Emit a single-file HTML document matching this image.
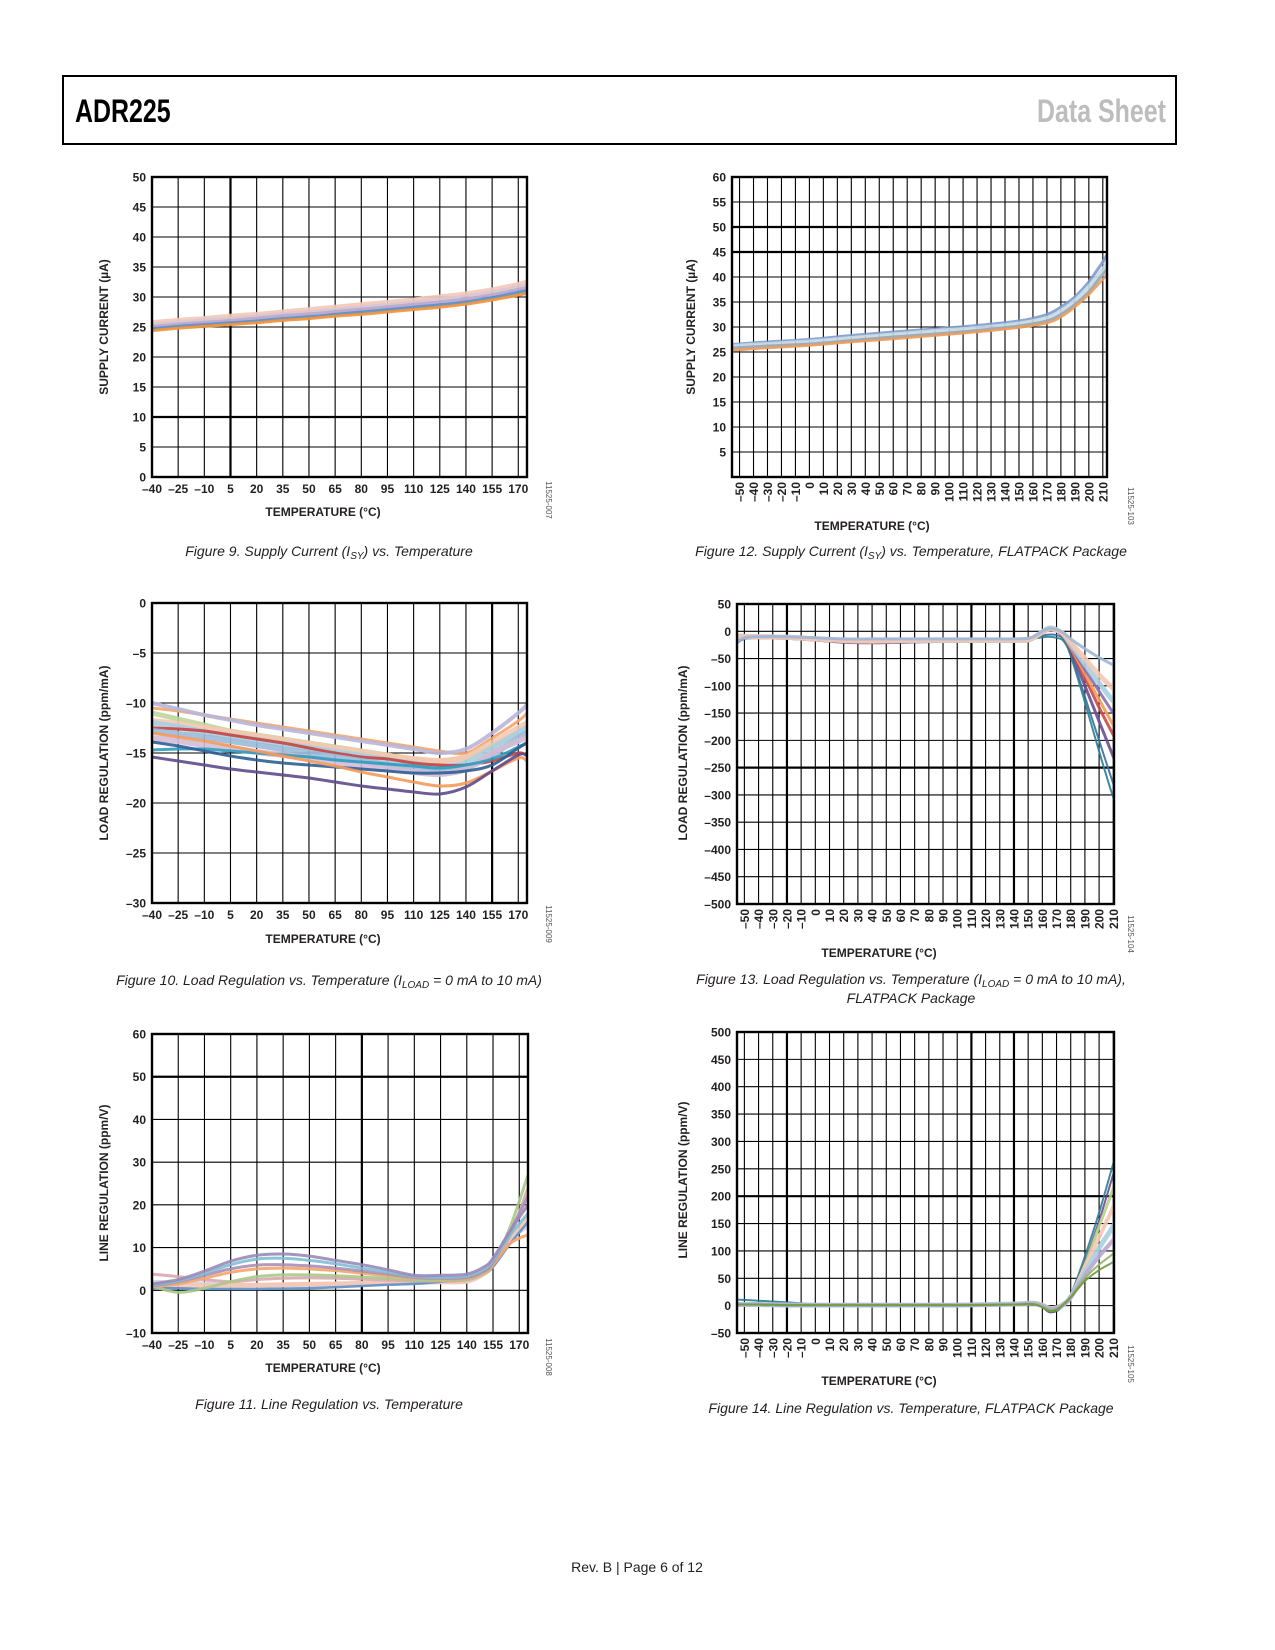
<!DOCTYPE html>
<html><head><meta charset="utf-8"><style>
html,body{margin:0;padding:0;background:#fff;}
svg{display:block;}
text{font-family:"Liberation Sans",Arial,sans-serif;}
.tk{font-size:12px;font-weight:bold;fill:#231f20;}
.ttl{font-size:12px;font-weight:bold;fill:#231f20;}
.cap{font-size:14px;font-style:italic;fill:#231f20;}
.code{font-size:8px;fill:#555;}
</style></head><body>
<svg id="page" width="1275" height="1650" viewBox="0 0 1275 1650">
<rect x="63" y="76" width="1113" height="68" fill="none" stroke="#000" stroke-width="2"/>
<text x="75" y="122" font-size="32" font-weight="bold" fill="#000" transform="translate(75,0) scale(0.78,1) translate(-75,0)">ADR225</text>
<text x="1166" y="122" font-size="32" font-weight="bold" fill="#bdbdbd" text-anchor="end" transform="translate(1166,0) scale(0.78,1) translate(-1166,0)">Data Sheet</text>
<text x="637" y="1572" font-size="14" fill="#231f20" text-anchor="middle">Rev. B | Page 6 of 12</text>
<g id="charts"></g>
</svg>
<script>
// ---------- Figure 9 data ----------
const f9X = [-40,-25,-10,5,20,35,50,65,80,95,110,125,140,155,170,175];
const f9Orange = [24.4,24.8,25.1,25.4,25.7,26.1,26.4,26.8,27.1,27.5,27.9,28.3,28.8,29.5,30.3,30.6];
const f9Blue = [24.7,25.1,25.4,25.7,26.0,26.4,26.7,27.1,27.5,27.9,28.3,28.7,29.2,29.9,30.8,31.1];
const f9Green = [24.6,25.0,25.3,25.6,25.9,26.3,26.6,27.0,27.3,27.7,28.1,28.5,29.0,29.7,30.5,30.8];
const f9Purple = [25.0,25.4,25.7,26.0,26.4,26.8,27.1,27.5,27.9,28.3,28.7,29.1,29.6,30.3,31.2,31.5];
const f9Grey = [25.3,25.7,26.0,26.3,26.7,27.1,27.4,27.8,28.2,28.6,29.0,29.5,30.0,30.7,31.6,31.9];
const f9Peach = [25.7,26.1,26.4,26.8,27.1,27.5,27.9,28.3,28.7,29.1,29.5,30.0,30.5,31.2,32.1,32.5];
// ---------- Figure 12 data ----------
const f12X = [-55,-30,0,30,60,90,120,150,170,180,190,200,205,210,213];
const f12Upper = [26.5,27,27.5,28.3,29,29.6,30.3,31.2,32.5,34,36,39,41,43,44.5];
const f12Mid = [26,26.4,26.9,27.6,28.3,29,29.6,30.5,31.6,33,35,37.8,39.5,41.2,42.5];
const f12Grey = [25.8,26.2,26.6,27.3,28,28.6,29.3,30.2,31.2,32.5,34.5,37,38.8,40.5,41.5];
const f12Lower = [25.3,25.8,26.3,27,27.6,28.3,29,29.9,30.8,32,34,36.5,38,39.5,40.5];
// ---------- Figure 10 data ----------
const f10X = [-40,-25,-10,5,20,35,50,65,80,95,110,125,140,155,170,175];
const f10A = [-10.5,-10.8,-11.2,-11.6,-12,-12.4,-12.8,-13.2,-13.6,-14,-14.4,-14.8,-15,-13.5,-11.8,-11];
const f10B = [-10,-10.6,-11.2,-11.7,-12.2,-12.6,-13,-13.4,-13.8,-14.2,-14.6,-15,-14.6,-13,-11,-10.2];
const f10C = [-15.4,-15.8,-16.2,-16.6,-16.9,-17.2,-17.5,-17.9,-18.3,-18.6,-18.9,-19.1,-18.4,-16.8,-15.2,-15.2];
const f10D = [-13.9,-14.3,-14.8,-15.3,-15.7,-16,-16.2,-16.4,-16.6,-16.8,-17,-17,-16.8,-16.2,-14.5,-14];
const f10E = [-13,-13.4,-13.8,-14.3,-14.8,-15.3,-15.8,-16.3,-16.9,-17.4,-17.9,-18.3,-18,-16.8,-15.5,-15.8];
const f10F = [-12,-12.4,-12.9,-13.3,-13.7,-14.1,-14.5,-14.9,-15.3,-15.7,-16.1,-16.4,-16,-14.5,-13,-12.5];
const f10G = [-13.5,-13.8,-14.2,-14.5,-14.9,-15.2,-15.5,-15.9,-16.3,-16.6,-16.9,-17.1,-16.6,-15,-13.8,-13.5];
const f10H = [-11,-11.6,-12.2,-12.8,-13.2,-13.6,-14,-14.4,-14.8,-15.2,-15.6,-15.8,-15.4,-14.3,-13,-12.5];
const f10I = [-12.5,-12.6,-12.8,-13.2,-13.6,-14,-14.5,-15,-15.4,-15.6,-16,-16.2,-16.2,-15.8,-15,-15.3];
const f10J = [-14.7,-14.6,-14.6,-14.8,-15,-15.2,-15.4,-15.7,-15.9,-16.1,-16.3,-16.5,-16.2,-15.6,-14.4,-14];
const f10K = [-11.8,-12.1,-12.5,-12.9,-13.3,-13.7,-14.1,-14.5,-14.9,-15.3,-15.6,-15.8,-15.4,-14,-12.5,-12];
const f10L = [-12.8,-13.1,-13.4,-13.8,-14.2,-14.6,-15,-15.4,-15.8,-16.2,-16.6,-16.8,-16.5,-15.2,-13.5,-13];
// ---------- Figure 13 data ----------
const f13X = [-55,-50,-40,-20,0,20,40,60,80,100,120,140,150,155,160,165,170,175,180,190,200,210,213];
const f13A = [-20,-12,-10,-10,-12,-14,-14,-14,-14,-14,-14,-14,-13,-8,0,5,3,-3,-14,-32,-48,-62,-68];
const f13B = [-10,-10,-10,-11,-14,-17,-18,-17,-16,-16,-16,-16,-15,-10,-2,4,2,-5,-20,-50,-80,-105,-112];
const f13C = [-10,-10,-11,-12,-15,-18,-19,-18,-17,-17,-17,-17,-16,-11,-3,3,0,-8,-28,-70,-110,-150,-160];
const f13D = [-12,-12,-12,-13,-16,-19,-20,-19,-18,-18,-18,-18,-17,-12,-4,3,0,-10,-32,-85,-140,-190,-205];
const f13E = [-8,-9,-10,-12,-16,-20,-21,-20,-19,-18,-18,-18,-17,-12,-3,5,1,-10,-35,-100,-165,-230,-248];
const f13F = [-22,-14,-12,-12,-14,-16,-17,-16,-16,-16,-16,-16,-15,-12,-8,-6,-7,-14,-40,-120,-200,-280,-300];
const f13G = [-15,-12,-11,-11,-13,-15,-15,-15,-15,-15,-15,-15,-14,-13,-11,-10,-12,-18,-45,-130,-220,-305,-322];
const f13H = [-9,-9,-10,-11,-14,-17,-18,-17,-17,-17,-17,-17,-16,-10,-1,6,3,-6,-24,-60,-95,-128,-135];
const f13I = [-11,-11,-11,-12,-15,-18,-19,-18,-18,-18,-18,-18,-17,-11,-3,4,1,-9,-30,-78,-125,-172,-182];
// ---------- Figure 11 data ----------
const f11X = [-40,-25,-10,5,20,35,50,65,80,95,110,125,140,150,155,165,175];
const f11A = [1.5,2.5,4.5,6.8,8.2,8.5,8,7,6,4.8,3.5,3.5,3.8,5.5,7.5,14,20];
const f11B = [1.2,2.2,4,6,7.3,7.5,7,6.2,5.2,4.2,3.2,3,3.3,5,7,13,18];
const f11C = [1,2,3.5,5,5.9,6,5.7,5.2,4.5,3.8,3,2.8,3,4.5,6.5,14,22];
const f11D = [0.8,1.5,2.8,4.2,5,5.2,5,4.6,4,3.4,2.8,2.6,2.8,4.2,6,11,13];
const f11E = [1,-0.5,0.5,2,3.2,3.6,3.6,3.4,3.1,2.8,2.4,2.3,2.5,4,6,15,27];
const f11F = [3.8,3.2,2.5,2,2.5,2.8,2.9,2.8,2.6,2.4,2.2,2.2,2.4,4,6,13,24];
const f11G = [0.5,0.5,0.3,0.3,0.3,0.4,0.5,0.7,1,1.3,1.5,2,2.5,4,5.5,11,16];
const f11H = [1,1,1,1.1,1.2,1.3,1.4,1.5,1.6,1.7,1.8,2,2.2,4,6,12,17];
const f11I = [2,1.8,1.6,1.4,1.2,1.3,1.4,1.5,1.6,1.7,1.8,1.9,2,3.8,6,12,15];
// ---------- Figure 14 data ----------
const f14X = [-55,-50,-40,-20,0,20,60,100,140,150,155,160,165,170,175,180,190,200,210,213];
const f14A = [11,10.5,9,6,3,2,2,2,3,4,3,-2,-10,-8,3,20,90,170,260,290];
const f14B = [3,3,3,2,1,1,1,1,3,4,3,-3,-12,-10,0,18,80,155,240,265];
const f14C = [2,2,2,1,1,1,1,1,2,3,2,-3,-10,-8,2,15,45,65,80,88];
const f14D = [2,2,2,1,1,1,1,1,2,3,2,-2,-8,-6,3,16,50,75,95,105];
const f14E = [3,3,2,2,1,1,1,1,3,5,5,2,-4,-3,4,17,70,125,180,200];
const f14F = [2,2,2,1,1,1,1,1,3,4,4,0,-6,-5,2,16,60,105,145,160];
const f14G = [2,2,2,1,1,1,1,1,2,4,4,1,-4,-3,4,17,75,145,215,250];
const f14H = [2,2,2,1,1,1,1,1,2,4,3,0,-6,-5,2,15,55,90,120,130];
// tick label arrays
const leftXTicks = [-40,-25,-10,5,20,35,50,65,80,95,110,125,140,155,170];
const rightXTicks = [-50,-40,-30,-20,-10,0,10,20,30,40,50,60,70,80,90,100,110,120,130,140,150,160,170,180,190,200,210];

const NS = 'http://www.w3.org/2000/svg';
const root = document.getElementById('charts');
function mk(tag, attrs, parent){ const e=document.createElementNS(NS,tag); for(const k in attrs) e.setAttribute(k,attrs[k]); (parent||root).appendChild(e); return e; }
function fmt(v){ return v<0 ? '\u2013'+Math.abs(v) : String(v); }
function smoothPath(pts){
  let d='M'+pts[0][0].toFixed(1)+','+pts[0][1].toFixed(1);
  for(let i=0;i<pts.length-1;i++){
    const p0=pts[Math.max(0,i-1)],p1=pts[i],p2=pts[i+1],p3=pts[Math.min(pts.length-1,i+2)];
    const c1=[p1[0]+(p2[0]-p0[0])/6,p1[1]+(p2[1]-p0[1])/6];
    const c2=[p2[0]-(p3[0]-p1[0])/6,p2[1]-(p3[1]-p1[1])/6];
    d+=' C'+c1[0].toFixed(1)+','+c1[1].toFixed(1)+' '+c2[0].toFixed(1)+','+c2[1].toFixed(1)+' '+p2[0].toFixed(1)+','+p2[1].toFixed(1);
  }
  return d;
}
function chart(cfg){
  const g=mk('g',{});
  
  
  const sx=v=>cfg.L+(v-cfg.x0)/(cfg.x1-cfg.x0)*(cfg.R-cfg.L);
  const sy=v=>cfg.B-(v-cfg.y0)/(cfg.y1-cfg.y0)*(cfg.B-cfg.T);
  const clip='clip-'+cfg.name;
  const cp=mk('clipPath',{id:clip},g); mk('rect',{x:cfg.L,y:cfg.T,width:cfg.R-cfg.L,height:cfg.B-cfg.T},cp);
  cfg.xt.forEach(v=>{
    const l=mk('line',{x1:sx(v),x2:sx(v),y1:cfg.T,y2:cfg.B,stroke:'#000','stroke-width':cfg.thickX.includes(v)?2.2:1.1},g);
    
    
  });
  cfg.yt.forEach(v=>{
    const l=mk('line',{x1:cfg.L,x2:cfg.R,y1:sy(v),y2:sy(v),stroke:'#000','stroke-width':cfg.thickY.includes(v)?2.2:1.1},g);
    
    
  });
  const sg=mk('g',{'clip-path':'url(#'+clip+')'},g);
  cfg.series.forEach(s=>{
    const pts=cfg.xs.map((x,i)=>[sx(x),sy(s.v[i])]);
    const p=mk('path',{d:smoothPath(pts),fill:'none',stroke:s.c,'stroke-width':s.w||3,'stroke-linejoin':'round','stroke-linecap':'round',opacity:s.o||0.9},sg);
    
    
  });
  const fr=mk('rect',{x:cfg.L,y:cfg.T,width:cfg.R-cfg.L,height:cfg.B-cfg.T,fill:'none',stroke:'#000','stroke-width':2.4},g);
  
  
  cfg.yl.forEach(v=>{
    const t=mk('text',{x:cfg.L-6,y:sy(v)+4.5,'text-anchor':'end',class:'tk'},g); t.textContent=fmt(v);
    
    
  });
  cfg.xl.forEach(v=>{
    let t;
    if(cfg.rot){ t=mk('text',{x:0,y:0,'text-anchor':'end',class:'tk',transform:'translate('+(sx(v)+4.5)+','+(cfg.B+5)+') rotate(-90)'},g); }
    else { t=mk('text',{x:sx(v),y:cfg.B+16,'text-anchor':'middle',class:'tk'},g); }
    t.textContent=fmt(v);
    
    
  });
  const xt=mk('text',{x:cfg.xtX,y:cfg.xtY,'text-anchor':'middle',class:'ttl'},g); xt.textContent='TEMPERATURE (\u00B0C)';
  
  
  const yt=mk('text',{x:0,y:0,'text-anchor':'middle',class:'ttl',transform:'translate('+cfg.ytX+','+cfg.ytY+') rotate(-90)'},g); yt.textContent=cfg.ytitle;
  
  
  const cd=mk('text',{x:0,y:0,'text-anchor':'middle',class:'code',transform:'translate('+cfg.codeX+','+cfg.codeY+') rotate(90)'},g); cd.textContent=cfg.code;
  
  
  cfg.cap.forEach((c,i)=>{
    const t=mk('text',{x:cfg.capX,y:cfg.capY+i*19,'text-anchor':'middle',class:'cap'},g); t.innerHTML=c;
    
    
  });
}
const range=(a,b,s)=>{const r=[];for(let v=a;v<=b+1e-9;v+=s)r.push(v);return r;};
const SUB='<tspan font-size="10" dy="3">';

chart({name:'figure-9-chart',L:152,T:177,R:527,B:477,x0:-40,x1:175,y0:0,y1:50,xt:leftXTicks,thickX:[5],yt:range(0,50,5),thickY:[10],yl:range(0,50,5),xl:leftXTicks,rot:false,
 xs:f9X,series:[{n:'series-peach',v:f9Peach,c:'#f2c9b8',w:5},{n:'series-grey',v:f9Grey,c:'#d9c6d0',w:5},{n:'series-purple',v:f9Purple,c:'#b9a9cf',w:4},{n:'series-green',v:f9Green,c:'#b5cf8f',w:3},{n:'series-blue',v:f9Blue,c:'#5b8fc9',w:3},{n:'series-orange',v:f9Orange,c:'#f3923c',w:3}],
 xtX:323,xtY:516,ytX:108,ytY:327,ytitle:'SUPPLY CURRENT (\u00B5A)',code:'11525-007',codeX:546,codeY:500,capX:329,capY:556,cap:['Figure 9. Supply Current (I'+SUB+'SY</tspan><tspan dy="-3">) vs. Temperature</tspan>']});

chart({name:'figure-12-chart',L:732,T:177,R:1107,B:477,x0:-55.4,x1:213,y0:0,y1:60,xt:rightXTicks,thickX:[],yt:range(5,60,5),thickY:[45,50],yl:range(5,60,5),xl:rightXTicks,rot:true,
 xs:f12X,series:[{n:'series-upper',v:f12Upper,c:'#7f9ccf',w:3},{n:'series-light',v:f12Mid,c:'#c7d9e3',w:6},{n:'series-grey',v:f12Grey,c:'#9aa6b2',w:3},{n:'series-lower',v:f12Lower,c:'#f09a55',w:2.5}],
 xtX:872,xtY:530,ytX:695,ytY:327,ytitle:'SUPPLY CURRENT (\u00B5A)',code:'11525-103',codeX:1128,codeY:506,capX:911,capY:556,cap:['Figure 12. Supply Current (I'+SUB+'SY</tspan><tspan dy="-3">) vs. Temperature, FLATPACK Package</tspan>']});

chart({name:'figure-10-chart',L:152,T:603,R:527,B:903,x0:-40,x1:175,y0:-30,y1:0,xt:leftXTicks,thickX:[155],yt:range(-30,0,5),thickY:[],yl:range(-30,0,5),xl:leftXTicks,rot:false,
 xs:f10X,series:[{n:'series-a',v:f10A,c:'#f5a56a',w:3},{n:'series-b',v:f10B,c:'#b9b6d8',w:4},{n:'series-h',v:f10H,c:'#bcd69a',w:5},{n:'series-k',v:f10K,c:'#f4c8b2',w:6},{n:'series-f',v:f10F,c:'#a9cfe0',w:6},{n:'series-i',v:f10I,c:'#c9433f',w:3},{n:'series-l',v:f10L,c:'#9bbad8',w:6},{n:'series-g',v:f10G,c:'#d3bcd6',w:6},{n:'series-j',v:f10J,c:'#2f9bbf',w:3},{n:'series-d',v:f10D,c:'#2f5f95',w:3},{n:'series-e',v:f10E,c:'#f59a5a',w:3},{n:'series-c',v:f10C,c:'#5e4a8c',w:3}],
 xtX:323,xtY:943,ytX:108,ytY:753,ytitle:'LOAD REGULATION (ppm/mA)',code:'11525-009',codeX:546,codeY:924,capX:329,capY:985,cap:['Figure 10. Load Regulation vs. Temperature (I'+SUB+'LOAD</tspan><tspan dy="-3"> = 0 mA to 10 mA)</tspan>']});

chart({name:'figure-13-chart',L:737,T:604,R:1114,B:904,x0:-55.2,x1:210.5,y0:-500,y1:50,xt:rightXTicks,thickX:[-20,110,140],yt:range(-500,50,50),thickY:[-250],yl:range(-500,50,50),xl:rightXTicks,rot:true,
 xs:f13X,series:[{n:'series-g',v:f13G,c:'#2a7f95',w:2},{n:'series-f',v:f13F,c:'#3b6e9c',w:2},{n:'series-e',v:f13E,c:'#6a4c8c',w:3},{n:'series-d',v:f13D,c:'#c94a45',w:3},{n:'series-i',v:f13I,c:'#f59a50',w:3},{n:'series-c',v:f13C,c:'#8a6fb0',w:3},{n:'series-h',v:f13H,c:'#a9cfe0',w:5},{n:'series-b',v:f13B,c:'#f4c8b2',w:5},{n:'series-a',v:f13A,c:'#9fb6d6',w:3}],
 xtX:879,xtY:957,ytX:687,ytY:753,ytitle:'LOAD REGULATION (ppm/mA)',code:'11525-104',codeX:1128,codeY:934,capX:911,capY:984,cap:['Figure 13. Load Regulation vs. Temperature (I'+SUB+'LOAD</tspan><tspan dy="-3"> = 0 mA to 10 mA),</tspan>','FLATPACK Package']});

chart({name:'figure-11-chart',L:152,T:1034,R:528,B:1333,x0:-40,x1:175,y0:-10,y1:60,xt:leftXTicks,thickX:[80],yt:range(-10,60,10),thickY:[50],yl:range(-10,60,10),xl:leftXTicks,rot:false,
 xs:f11X,series:[{n:'series-i',v:f11I,c:'#d9d0e2',w:4},{n:'series-h',v:f11H,c:'#f4c8b2',w:5},{n:'series-g',v:f11G,c:'#5b8fc9',w:2.5},{n:'series-f',v:f11F,c:'#d7a9ad',w:3},{n:'series-e',v:f11E,c:'#a9c98a',w:3},{n:'series-d',v:f11D,c:'#f5a56a',w:3},{n:'series-c',v:f11C,c:'#a88fb6',w:3},{n:'series-b',v:f11B,c:'#7fbfd6',w:3},{n:'series-a',v:f11A,c:'#9a8ab8',w:3}],
 xtX:323,xtY:1372,ytX:108,ytY:1183,ytitle:'LINE REGULATION (ppm/V)',code:'11525-008',codeX:546,codeY:1357,capX:329,capY:1409,cap:['Figure 11. Line Regulation vs. Temperature']});

chart({name:'figure-14-chart',L:737,T:1032,R:1114,B:1333,x0:-55.2,x1:210.5,y0:-50,y1:500,xt:rightXTicks,thickX:[-20,110,140],yt:range(-50,500,50),thickY:[200],yl:range(-50,500,50),xl:rightXTicks,rot:true,
 xs:f14X,series:[{n:'series-a',v:f14A,c:'#2a7f95',w:2},{n:'series-b',v:f14B,c:'#6a4c8c',w:2},{n:'series-g',v:f14G,c:'#b9cf8a',w:3},{n:'series-e',v:f14E,c:'#f4c8b2',w:4},{n:'series-f',v:f14F,c:'#a9cfe0',w:5},{n:'series-h',v:f14H,c:'#b9a9cf',w:4},{n:'series-d',v:f14D,c:'#8fb35e',w:2},{n:'series-c',v:f14C,c:'#6f9a3f',w:2}],
 xtX:879,xtY:1385,ytX:687,ytY:1180,ytitle:'LINE REGULATION (ppm/V)',code:'11525-105',codeX:1128,codeY:1364,capX:911,capY:1413,cap:['Figure 14. Line Regulation vs. Temperature, FLATPACK Package']});
</script>
</body></html>
